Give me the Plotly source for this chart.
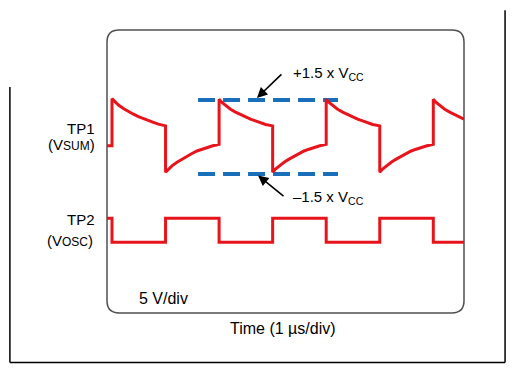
import plotly.graph_objects as go

# ---------------- data (time in µs, signal in volts, 5 V/div) ----------------
tp1_time = [0.00, 0.14,
            0.14, 0.22, 0.32, 0.46, 0.60, 0.74, 0.88, 1.02, 1.16, 1.30, 1.44, 1.64,
            1.64, 1.72, 1.82, 1.96, 2.10, 2.24, 2.38, 2.52, 2.66, 2.80, 2.94, 3.14,
            3.14, 3.22, 3.32, 3.46, 3.60, 3.74, 3.88, 4.02, 4.16, 4.30, 4.44, 4.64,
            4.64, 4.72, 4.82, 4.96, 5.10, 5.24, 5.38, 5.52, 5.66, 5.80, 5.94, 6.14,
            6.14, 6.22, 6.32, 6.46, 6.60, 6.74, 6.88, 7.02, 7.16, 7.30, 7.44, 7.64,
            7.64, 7.72, 7.82, 7.96, 8.10, 8.24, 8.38, 8.52, 8.66, 8.80, 8.94, 9.14,
            9.14, 9.22, 9.32, 9.46, 9.60, 9.74, 9.88, 10.0]
tp1_volts = [23.65, 23.65,
             30.3, 29.85, 29.4, 28.9, 28.45, 28.1, 27.75, 27.45, 27.2, 26.95, 26.7, 26.45,
             19.9, 20.35, 20.8, 21.3, 21.75, 22.15, 22.55, 22.9, 23.15, 23.4, 23.6, 23.85,
             30.2, 29.75, 29.3, 28.8, 28.4, 28.05, 27.7, 27.4, 27.15, 26.9, 26.65, 26.45,
             19.9, 20.35, 20.8, 21.3, 21.75, 22.15, 22.55, 22.9, 23.15, 23.4, 23.6, 23.85,
             30.2, 29.75, 29.3, 28.8, 28.4, 28.05, 27.7, 27.4, 27.15, 26.9, 26.65, 26.45,
             19.9, 20.35, 20.8, 21.3, 21.75, 22.15, 22.55, 22.9, 23.15, 23.4, 23.6, 23.85,
             30.2, 29.75, 29.3, 28.8, 28.4, 28.05, 27.7, 27.4]

tp2_time = [0.00, 0.14, 1.64, 3.14, 4.64, 6.14, 7.64, 9.14, 10.0]
tp2_volts = [13.4, 10.0, 13.4, 10.0, 13.4, 10.0, 13.4, 10.0, 10.0]

ref_time = [2.55, 6.47]
ref_pos_level = [30.1, 30.1]   # +1.5 x Vcc
ref_neg_level = [19.65, 19.65]  # -1.5 x Vcc

X_RANGE = [0, 10]
Y_RANGE = [0, 40]

RED = "#e8141c"
BLUE = "#1a6fba"
FONT = "Arial, 'Liberation Sans', sans-serif"

fig = go.Figure()

for lvl in (ref_pos_level, ref_neg_level):
    fig.add_trace(go.Scatter(x=ref_time, y=lvl, mode="lines",
                             line=dict(color=BLUE, width=4, dash="17px,8px"),
                             hoverinfo="skip"))

fig.add_trace(go.Scatter(x=tp1_time, y=tp1_volts, mode="lines",
                         line=dict(color=RED, width=3), hoverinfo="skip"))
fig.add_trace(go.Scatter(x=tp2_time, y=tp2_volts, mode="lines",
                         line=dict(color=RED, width=3, shape="hv"), hoverinfo="skip"))

# rounded scope frame (paper coords)
rx, ry = 0.034, 0.043
path = (f"M {rx},0 L {1-rx},0 Q 1,0 1,{ry} L 1,{1-ry} Q 1,1 {1-rx},1 "
        f"L {rx},1 Q 0,1 0,{1-ry} L 0,{ry} Q 0,0 {rx},0 Z")
fig.add_shape(type="path", xref="paper", yref="paper", path=path,
              line=dict(color="#505050", width=1.5), layer="above")

# outer page frame lines
L, R, B, T0, TL = -0.2720, 1.1150, -0.1750, 1.07, 0.7986
fig.add_shape(type="line", xref="paper", yref="paper", x0=L, x1=L, y0=TL, y1=B,
              line=dict(color="black", width=1.5))
fig.add_shape(type="line", xref="paper", yref="paper", x0=L, x1=R, y0=B, y1=B,
              line=dict(color="black", width=1.5))
fig.add_shape(type="line", xref="paper", yref="paper", x0=R, x1=R, y0=T0, y1=B,
              line=dict(color="black", width=1.5))

ann = []
# arrows
ann.append(dict(x=4.20, y=30.4, xref="x", yref="y", ax=26, ay=-25, text="",
                showarrow=True, arrowhead=2, arrowsize=1.3, arrowwidth=1.6,
                arrowcolor="#000", standoff=0))
ann.append(dict(x=4.23, y=19.45, xref="x", yref="y", ax=27, ay=22, text="",
                showarrow=True, arrowhead=2, arrowsize=1.3, arrowwidth=1.6,
                arrowcolor="#000", standoff=0))

def txt(text, x, y, xanchor="left", size=15):
    ann.append(dict(text=text, x=x, y=y, xref="paper", yref="paper",
                    xanchor=xanchor, yanchor="middle", showarrow=False,
                    font=dict(family=FONT, size=size, color="#000")))

txt("+1.5 x V<sub>CC</sub>", 0.515, 0.845)
txt("\u20131.5 x V<sub>CC</sub>", 0.515, 0.408)
txt("TP1", -0.028, 0.652, "right")
txt("(V<span style='font-size:12px'>SUM</span>)", -0.028, 0.595, "right")
txt("TP2", -0.028, 0.329, "right")
txt("(V<span style='font-size:12px'>OSC</span>)", -0.035, 0.256, "right")
txt("5 V/div", 0.084, 0.053, "left", 16)
txt("Time (1 \u00b5s/div)", 0.493, -0.0565, "center", 16)

# the page body adds an 8px offset; keep the figure inside the window
fig.update_layout(
    width=506, height=356,
    margin=dict(l=99, r=50, t=22, b=51),
    paper_bgcolor="white", plot_bgcolor="white",
    showlegend=False,
    xaxis=dict(range=X_RANGE, visible=False, fixedrange=True),
    yaxis=dict(range=Y_RANGE, visible=False, fixedrange=True),
    annotations=ann,
    font=dict(family=FONT),
)

fig.write_html("out.html", config={"displayModeBar": False})
